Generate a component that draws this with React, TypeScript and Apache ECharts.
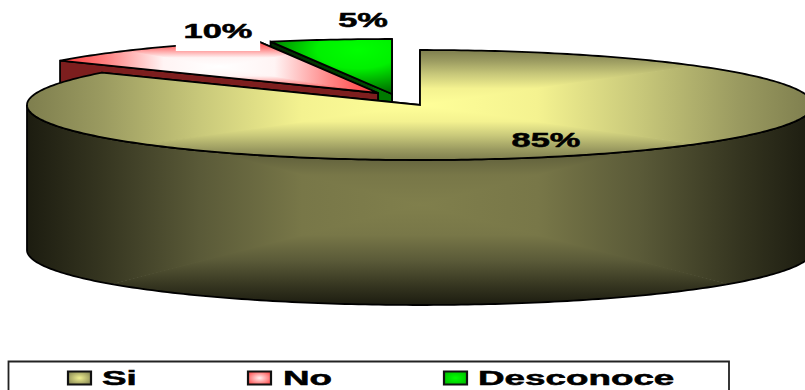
import React, { useEffect, useRef } from "react";
import * as echarts from "echarts";

// Survey answers, in percent, clockwise from twelve o'clock.
const sliceNames = ["Si", "No", "Desconoce"];
const sliceValues = [85, 10, 5];

// Pie geometry on the page.
const CX = 420;
const CY = 105;
const RX = 393;
const RY = 55;
const DEPTH = 145;

// Per-slice styling, in the same order as the data.
const shiftX = [0, -42, -28];
const shiftY = [0, -12, -11];
const stackOrder = [3, 2, 1];
const topStops: [number, string][][] = [
  [[0, "#FFFF99"], [0.3, "#F4F290"], [0.56, "#C8C87A"], [0.81, "#9A9A60"], [1, "#7E7E4E"]],
  [[0, "#FFFFFF"], [0.35, "#FFF4F4"], [0.7, "#FF8585"], [1, "#FF3838"]],
  [],
];
const sideStops: [number, string][] = [
  [0, "#807F4C"], [0.3, "#787748"], [0.56, "#5A5A38"], [0.81, "#353520"], [1, "#1C1C10"],
];
const edgeFill = ["#4A4A2A", "#7D1E1E", "#004000"];
const labelX = [546, 218, 363];
const labelY = [140.5, 31, 20.5];
const legendSwatchX = [68, 248, 444];
const legendTextX = [102, 283, 478];
const swatchCentre = ["#F0F090", "#FFF0F0", "#00FF00"];
const swatchEdge = ["#8A8A55", "#FF5050", "#00C000"];

const FONT = '"Liberation Sans", Arial, sans-serif';
const TEXT_STRETCH = 1.72;
const LEGEND_STRETCH = 1.84;

type Pt = [number, number];

const rimPoint = (deg: number, dx = 0, dy = 0): Pt => {
  const a = (deg * Math.PI) / 180;
  return [CX + dx + RX * Math.sin(a), CY + dy - RY * Math.cos(a)];
};

const arc = (from: number, to: number, dx = 0, dy = 0): Pt[] => {
  const steps = Math.max(2, Math.ceil(Math.abs(to - from)));
  const pts: Pt[] = [];
  for (let i = 0; i <= steps; i++) pts.push(rimPoint(from + ((to - from) * i) / steps, dx, dy));
  return pts;
};

const lowered = (pts: Pt[]): Pt[] => pts.map(([x, y]) => [x, y + DEPTH] as Pt).reverse();

const gradStops = (stops: [number, string][]) => stops.map(([offset, color]) => ({ offset, color }));

// Box-shaped shading: four wedges from the centre of a bounding box, each with
// a linear ramp running out to its own side.
const boxShaded = (
  points: Pt[],
  box: { x0: number; y0: number; x1: number; y1: number },
  stops: [number, string][],
  z2: number,
) => {
  const mx = (box.x0 + box.x1) / 2;
  const my = (box.y0 + box.y1) / 2;
  const { x0, y0, x1, y1 } = box;
  const e = 1.5;
  const wedges: { tri: Pt[]; to: Pt }[] = [
    { tri: [[mx, my + e], [x0 - e, y0 - e], [x1 + e, y0 - e]], to: [mx, y0] },
    { tri: [[mx, my - e], [x0 - e, y1 + e], [x1 + e, y1 + e]], to: [mx, y1] },
    { tri: [[mx + e, my], [x0 - e, y0 - e], [x0 - e, y1 + e]], to: [x0, my] },
    { tri: [[mx - e, my], [x1 + e, y0 - e], [x1 + e, y1 + e]], to: [x1, my] },
  ];
  return wedges.map(({ tri, to }) => ({
    type: "polygon",
    shape: { points },
    z2,
    silent: true,
    style: {
      fill: new echarts.graphic.LinearGradient(mx, my, to[0], to[1], gradStops(stops), true),
      stroke: null,
    },
    clipPath: { type: "polygon", shape: { points: tri } },
  }));
};

const outline = (points: Pt[], z2: number) => ({
  type: "polygon",
  shape: { points },
  z2,
  silent: true,
  style: { fill: "none", stroke: "#000", lineWidth: 1.8, lineJoin: "miter" },
});

const bounds = (pts: Pt[]) => ({
  x0: Math.min(...pts.map((p) => p[0])),
  y0: Math.min(...pts.map((p) => p[1])),
  x1: Math.max(...pts.map((p) => p[0])),
  y1: Math.max(...pts.map((p) => p[1])),
});

const renderSlice = (params: any, api: any) => {
  const i = params.dataIndex;
  const value = api.value(0);
  const total = sliceValues.reduce((s, v) => s + v, 0);
  const before = sliceValues.slice(0, i).reduce((s, v) => s + v, 0);
  const start = (before / total) * 360;
  const end = start + (value / total) * 360;
  const dx = shiftX[i];
  const dy = shiftY[i];
  const z = stackOrder[i] * 10;
  const apex: Pt = [CX + dx, CY + dy];
  const rim = arc(start, end, dx, dy);
  const top: Pt[] = [apex, ...rim];
  const children: any[] = [];

  // Cut faces along the two radial edges; the clockwise-end face goes underneath.
  const first = rim[0];
  const last = rim[rim.length - 1];
  const cutFill =
    i === 2
      ? new echarts.graphic.LinearGradient(270, 0, 392, 0, [
          { offset: 0, color: "#002A00" },
          { offset: 0.8, color: "#004800" },
          { offset: 0.9, color: "#007A00" },
          { offset: 1, color: "#007A00" },
        ], true)
      : edgeFill[i];
  [last, first].forEach((p, k) => {
    const face: Pt[] = [apex, p, [p[0], p[1] + DEPTH], [apex[0], apex[1] + DEPTH]];
    children.push({
      type: "polygon",
      shape: { points: face },
      z2: z + k,
      silent: true,
      style: { fill: cutFill, stroke: "#000", lineWidth: 1.8 },
    });
  });

  // Curved outer wall, only where it faces the viewer.
  const wallFrom = Math.max(start, 90);
  const wallTo = Math.min(end, 270);
  if (wallTo > wallFrom) {
    const upper = arc(wallFrom, wallTo, dx, dy);
    const wall = [...upper, ...lowered(upper)];
    const wallBox = { x0: CX - RX, y0: CY, x1: CX + RX, y1: CY + RY + DEPTH };
    children.push(...boxShaded(wall, wallBox, sideStops, z + 3));
    children.push(outline(wall, z + 4));
  }

  // Top face.
  if (i === 2) {
    children.push({
      type: "polygon",
      shape: { points: top },
      z2: z + 5,
      silent: true,
      style: {
        fill: new echarts.graphic.RadialGradient(0.72, 0.2, 0.85, [
          { offset: 0, color: "#00FF00" },
          { offset: 0.4, color: "#00F000" },
          { offset: 1, color: "#006000" },
        ]),
      },
    });
  } else {
    const box = i === 0 ? { x0: CX - RX, y0: CY - RY, x1: CX + RX, y1: CY + RY } : bounds(top);
    children.push(...boxShaded(top, box, topStops[i], z + 5));
  }
  children.push(outline(top, z + 6));

  // Percentage label; the No label sits on a white plate that hides the rim behind it.
  children.push({
    type: "text",
    x: labelX[i],
    y: labelY[i],
    scaleX: TEXT_STRETCH,
    z2: i === 1 ? 50 : 60,
    silent: true,
    style: {
      text: `${value}%`,
      x: 0,
      y: 0,
      align: "center",
      verticalAlign: "middle",
      font: `bold 20px ${FONT}`,
      fill: "#000",
      stroke: "#000",
      lineWidth: 0.5,
      ...(i === 1 ? { backgroundColor: "#fff", padding: [10, 4.5, 10, 4.5] } : {}),
    },
  });

  // Legend entry.
  children.push({
    type: "rect",
    shape: { x: legendSwatchX[i], y: 371.5, width: 23, height: 13 },
    z2: 70,
    silent: true,
    style: {
      fill: new echarts.graphic.RadialGradient(0.5, 0.5, 0.6, [
        { offset: 0, color: swatchCentre[i] },
        { offset: 1, color: swatchEdge[i] },
      ]),
      stroke: "#111",
      lineWidth: 2.2,
    },
  });
  children.push({
    type: "text",
    x: legendTextX[i],
    y: 377.5,
    scaleX: LEGEND_STRETCH,
    z2: 70,
    silent: true,
    style: {
      text: sliceNames[i],
      x: 0,
      y: 0,
      align: "left",
      verticalAlign: "middle",
      font: `bold 20px ${FONT}`,
      fill: "#000",
      stroke: "#000",
      lineWidth: 0.5,
    },
  });

  return { type: "group", children };
};

export default function App() {
  const ref = useRef<HTMLDivElement>(null);
  useEffect(() => {
    const chart = echarts.init(ref.current!, undefined, { renderer: "svg" });
    chart.setOption({
      animation: false,
      backgroundColor: "#fff",
      tooltip: { show: false },
      graphic: [
        {
          type: "rect",
          shape: { x: 8.5, y: 361.5, width: 720.5, height: 40 },
          style: { fill: "#fff", stroke: "#222", lineWidth: 1.8 },
          z: 0,
          silent: true,
        },
      ],
      series: [
        {
          type: "custom",
          coordinateSystem: "none",
          silent: true,
          clip: false,
          z: 5,
          renderItem: renderSlice,
          data: sliceNames.map((name, i) => ({ name, value: [sliceValues[i]] })),
        },
      ],
    });
    return () => chart.dispose();
  }, []);
  return (
    <div style={{ position: "fixed", left: 0, top: 0, width: 805, height: 390, overflow: "hidden" }}>
      <div ref={ref} style={{ width: 805, height: 390 }} />
    </div>
  );
}
